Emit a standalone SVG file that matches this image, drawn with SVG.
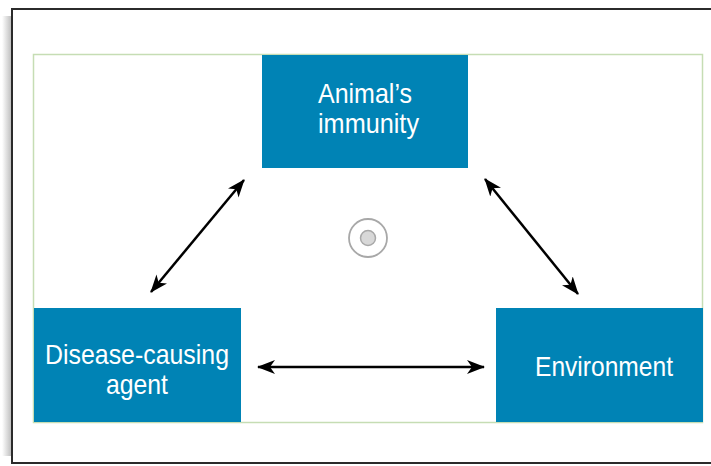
<svg xmlns="http://www.w3.org/2000/svg" width="711" height="466" viewBox="0 0 711 466">
<defs>
<linearGradient id="sh" x1="0" y1="0" x2="1" y2="0">
<stop offset="0" stop-color="#ffffff"/>
<stop offset="1" stop-color="#a8a8a8"/>
</linearGradient>
<marker id="ah" viewBox="0 0 18 14" refX="17" refY="7" markerWidth="18" markerHeight="14" markerUnits="userSpaceOnUse" orient="auto-start-reverse">
<path d="M0,0 L18,7 L0,14 L5,7 z" fill="#000"/>
</marker>
<style>
.box{fill:#0083b5;}
.lbl{font-family:"Liberation Sans",Arial,sans-serif;font-size:28.5px;fill:#ffffff;text-anchor:middle;}
.con{stroke:#000;stroke-width:2.5;fill:none;marker-start:url(#ah);marker-end:url(#ah);}
</style>
</defs>
<rect x="0" y="0" width="711" height="466" fill="#ffffff"/>
<rect x="2" y="16" width="10" height="440" fill="url(#sh)" opacity="0.8"/>
<rect x="12" y="9" width="710" height="454" fill="#ffffff" stroke="#2b2b2b" stroke-width="2"/>
<rect x="33.5" y="54.5" width="669" height="368" fill="#ffffff" stroke="#c6ddb4" stroke-width="1.5"/>

<g id="target">
<circle cx="368" cy="238" r="19" fill="#fff" stroke="#a8a8a8" stroke-width="1.8"/>
<circle cx="368" cy="238" r="7.5" fill="#d8d8d8" stroke="#a8a8a8" stroke-width="1.5"/>
</g>

<g id="connectors">
<line class="con" x1="244" y1="180" x2="151" y2="292"/>
<line class="con" x1="485" y1="179" x2="578" y2="294"/>
<line class="con" x1="258" y1="367" x2="484" y2="367"/>
</g>

<g id="immunity">
<rect class="box" x="262" y="55" width="206" height="113"/>
<text class="lbl" x="365" y="103" textLength="94" lengthAdjust="spacingAndGlyphs">Animal’s</text>
<text class="lbl" x="368.5" y="133" textLength="101" lengthAdjust="spacingAndGlyphs">immunity</text>
</g>

<g id="agent">
<rect class="box" x="34" y="308" width="207" height="114"/>
<text class="lbl" x="137" y="364" textLength="184" lengthAdjust="spacingAndGlyphs">Disease-causing</text>
<text class="lbl" x="137" y="394" textLength="62" lengthAdjust="spacingAndGlyphs">agent</text>
</g>

<g id="environment">
<rect class="box" x="496" y="308" width="207" height="114"/>
<text class="lbl" x="604" y="376" textLength="138" lengthAdjust="spacingAndGlyphs">Environment</text>
</g>
</svg>
